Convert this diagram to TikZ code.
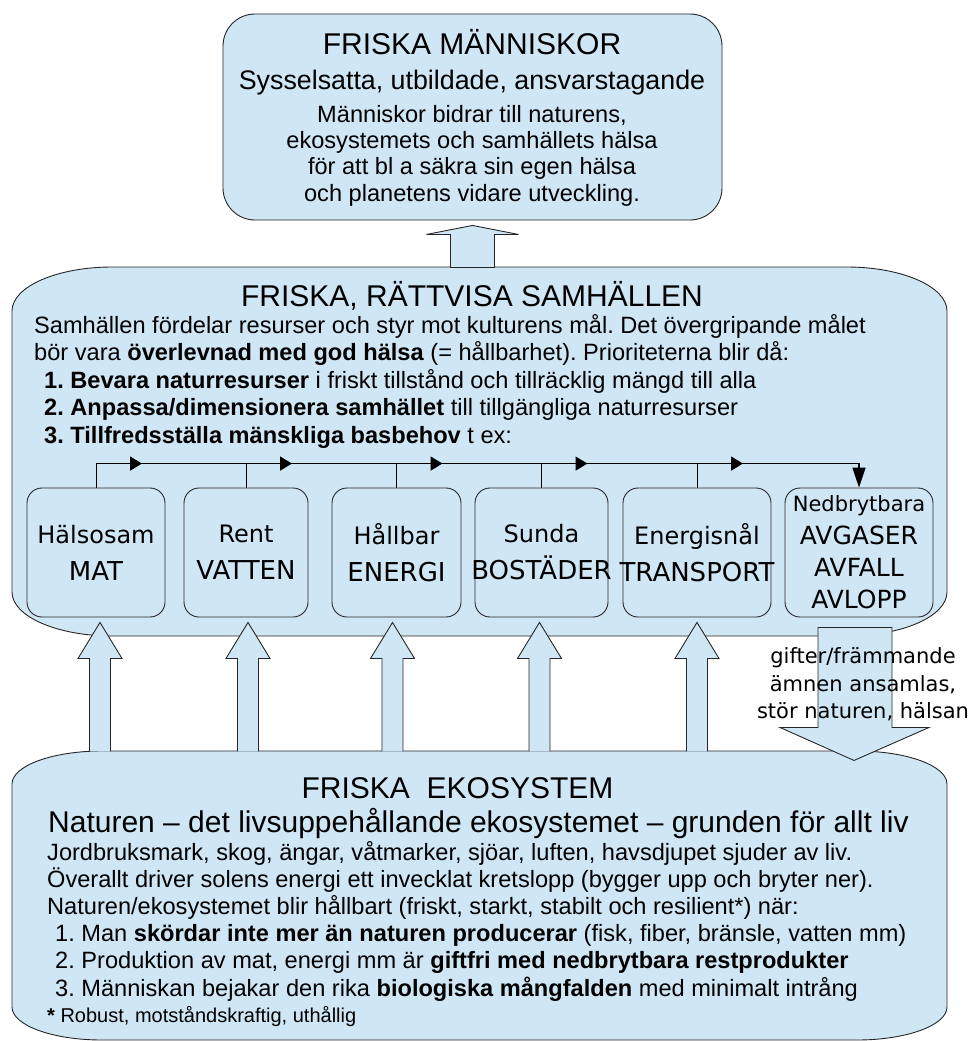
\documentclass[tikz,border=0pt]{standalone}
\usepackage{fontspec}
\setmainfont{Liberation Sans}
\newfontfamily\dejavu{DejaVu Sans}
\usepackage{tikz}
\usetikzlibrary{arrows.meta,calc}
\definecolor{paleblue}{RGB}{207,231,245}
\frenchspacing

\begin{document}
\begin{tikzpicture}[x=1pt, y=-1pt,
            panel/.style = {draw=black!85, fill=paleblue, line width=0.9pt},
            need/.style = {shape=rectangle, rounded corners=15pt, panel,
                           inner sep=0pt, minimum height=129pt},
            needtext/.style = {align=center, inner sep=0pt,
                               font=\dejavu\fontsize{24}{37}\selectfont},
            txt/.style = {anchor=base west, inner sep=0pt,
                          font=\fontsize{23.6}{27}\selectfont},
            heading/.style = {anchor=base, inner sep=0pt,
                              font=\fontsize{30}{34}\selectfont},
            flow/.style = {line width=1.6pt},
            stub/.style = {line width=0.8pt}]
\useasboundingbox (0,0) rectangle (970,1041);

\draw[panel] (112,267) -- (847,267) .. controls (902,267) and (947,286.7) .. (947,311)
    -- (947,592) .. controls (947,616.3) and (902,636) .. (847,636)
    -- (112,636) .. controls (57,636) and (12,616.3) .. (12,592)
    -- (12,311) .. controls (12,286.7) and (57,267) .. (112,267) -- cycle;
\draw[panel] (102,751) -- (857,751) .. controls (906.7,751) and (947,765.8) .. (947,784)
    -- (947,1007) .. controls (947,1025.2) and (906.7,1040) .. (857,1040)
    -- (102,1040) .. controls (52.3,1040) and (12,1025.2) .. (12,1007)
    -- (12,784) .. controls (12,765.8) and (52.3,751) .. (102,751) -- cycle;
\node[panel, rounded corners=32pt, minimum width=499pt, minimum height=206pt] (people) at (472.5,117) {};

\draw[panel, shift={(people.south)}] (-22,47) -- (-22,14) -- (-46,14) -- (0,5)
    -- (46,14) -- (22,14) -- (22,47) -- cycle;

\foreach \n/\x/\w in {mat/96/138, vatten/246/124, energi/396.5/129,
                      bostad/541.5/133, transport/697/148, avfall/859/148}
    \node[need, minimum width=\w pt] (\n) at (\x,552.5) {};

\foreach \n in {mat, vatten, energi, bostad, transport}
    \draw[stub] (\n.north) -- ++(0,-24);
\draw[flow, -{Triangle[length=20pt, width=13pt]}] ($(mat.north)+(0,-24)$) -| (avfall.north);
\foreach \n in {mat, vatten, energi, bostad, transport}
    \draw[flow, -{Triangle[length=12pt, width=14pt]}] ($(\n.north)+(0,-24)$) -- ++(46,0);

\foreach \n/\d in {mat/4, vatten/2, energi/-4, bostad/-2, transport/0}
    \draw[panel, shift={($(\n.south)+(\d,0)$)}] (-10.5,134) -- (-10.5,41) -- (-22,41)
        -- (0,5) -- (22,41) -- (10.5,41) -- (10.5,134);
\draw[panel, shift={(avfall.south)}] (-41,10) -- (33,10) -- (33,110) -- (70,110)
    -- (-5,143) -- (-79,110) -- (-41,110) -- cycle;

\node[heading] (peoplehead) at (472,55) {FRISKA MÄNNISKOR};
\node[heading, font=\fontsize{26.8}{30}\selectfont] (peoplesub) at (472,89) {Sysselsatta, utbildade, ansvarstagande};
\foreach \y/\t [count=\i] in {122/{Människor bidrar till naturens,},
                              148/{ekosystemets och samhällets hälsa},
                              174/{för att bl a säkra sin egen hälsa},
                              201/{och planetens vidare utveckling.}}
    \node[txt, anchor=base] (people\i) at (472,\y) {\t};

\node[heading] (societyhead) at (472,306) {FRISKA, RÄTTVISA SAMHÄLLEN};
\foreach \x/\y/\t [count=\i] in {34/333/{Samhällen fördelar resurser och styr mot kulturens mål. Det övergripande målet},
                                 34/360.5/{bör vara \textbf{överlevnad med god hälsa} (= hållbarhet). Prioriteterna blir då:},
                                 44/388/{\textbf{1. Bevara naturresurser} i friskt tillstånd och tillräcklig mängd till alla},
                                 44/415.5/{\textbf{2. Anpassa/dimensionera samhället} till tillgängliga naturresurser},
                                 44/443/{\textbf{3. Tillfredsställa mänskliga basbehov} t ex:}}
    \node[txt] (society\i) at (\x,\y) {\t};

\foreach \n/\a/\b in {mat/Hälsosam/MAT, vatten/Rent/VATTEN, energi/Hållbar/ENERGI,
                      bostad/Sunda/BOSTÄDER, transport/Energisnål/TRANSPORT}
    \node[needtext] (\n-text) at (\n) {\a\\{\fontsize{26}{37}\selectfont\b}};
\node[needtext, font=\dejavu\fontsize{25}{32.3}\selectfont] (avfall-text) at (avfall)
    {{\fontsize{21}{32.3}\selectfont Nedbrytbara}\\AVGASER\\AVFALL\\AVLOPP};

\foreach \y/\t [count=\i] in {663/{gifter/främmande}, 691/{ämnen ansamlas,}, 718/{stör naturen, hälsan}}
    \node[anchor=base, inner sep=0pt, font=\dejavu\fontsize{21}{25}\selectfont] (toxic\i) at (863,\y) {\t};

\node[heading] (ecohead) at (457.5,798) {FRISKA~~EKOSYSTEM};
\node[txt, font=\fontsize{30}{34}\selectfont] (ecosub) at (48,832) {Naturen – det livsuppehållande ekosystemet – grunden för allt liv};
\foreach \x/\y/\t [count=\i] in {47/860/{Jordbruksmark, skog, ängar, våtmarker, sjöar, luften, havsdjupet sjuder av liv.},
                                 47/887/{Överallt driver solens energi ett invecklat kretslopp (bygger upp och bryter ner).},
                                 47/914/{Naturen/ekosystemet blir hållbart (friskt, starkt, stabilt och resilient*) när:},
                                 55/941/{1. Man \textbf{skördar inte mer än naturen producerar} (fisk, fiber, bränsle, vatten mm)},
                                 55/968/{2. Produktion av mat, energi mm är \textbf{giftfri med nedbrytbara restprodukter}},
                                 55/996/{3. Människan bejakar den rika \textbf{biologiska mångfalden} med minimalt intrång}}
    \node[txt] (eco\i) at (\x,\y) {\t};
\node[txt, font=\fontsize{20}{24}\selectfont] (ecostar) at (47,1022) {\textbf{*} Robust, motståndskraftig, uthållig};
\end{tikzpicture}
\end{document}
